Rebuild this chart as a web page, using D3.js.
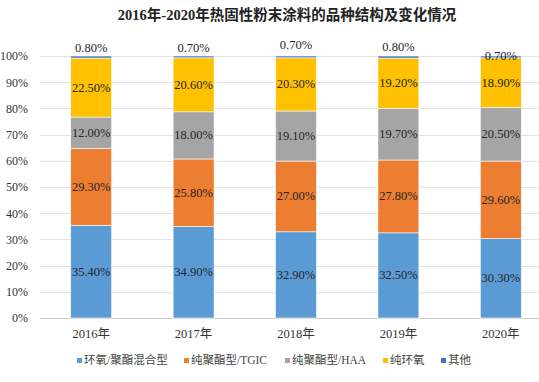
<!DOCTYPE html>
<html>
<head>
<meta charset="utf-8">
<script src="https://cdn.jsdelivr.net/npm/d3@7"></script>
<style>
  body { margin: 0; background: #fff; }
  text { font-family: "Liberation Serif", "Times New Roman", "Noto Sans CJK SC", serif; }
</style>
</head>
<body>
<div id="chart"></div>
<script>
(function () {

    // data
    var years = ["2016年", "2017年", "2018年", "2019年", "2020年"];
    var seriesNames = ["环氧/聚酯混合型", "纯聚酯型/TGIC", "纯聚酯型/HAA", "纯环氧", "其他"];
    var epoxyPolyester = [35.4, 34.9, 32.9, 32.5, 30.3];
    var tgic = [29.3, 25.8, 27.0, 27.8, 29.6];
    var haa = [12.0, 18.0, 19.1, 19.7, 20.5];
    var pureEpoxy = [22.5, 20.6, 20.3, 19.2, 18.9];
    var others = [0.8, 0.7, 0.7, 0.8, 0.7];
    var yTicks = [0, 10, 20, 30, 40, 50, 60, 70, 80, 90, 100];

    var colors = ["#5B9BD5", "#ED7D31", "#A5A5A5", "#FFC000", "#4472C4"];
    // small nudge of the top labels, as the original has them
    var topLabelShift = [-4, -4, -7, -5, 4];

    var W = 539, H = 382;
    var svg = d3.select("#chart").append("svg")
        .attr("width", W).attr("height", H);

    var rows = years.map(function (y, i) {
        return {year: y, s0: epoxyPolyester[i], s1: tgic[i], s2: haa[i], s3: pureEpoxy[i], s4: others[i]};
    });
    var keys = ["s0", "s1", "s2", "s3", "s4"];
    var stacked = d3.stack().keys(keys)(rows);

    var x = d3.scaleBand().domain(years).range([40, 552]).paddingInner(0.6).paddingOuter(0.3);
    var y = d3.scaleLinear().domain([0, 100]).range([318, 56]);

    // title
    svg.append("text")
        .attr("x", 287).attr("y", 20)
        .attr("text-anchor", "middle")
        .style("font-size", "14.5px").style("font-weight", "bold")
        .attr("fill", "#222")
        .text("2016年-2020年热固性粉末涂料的品种结构及变化情况");

    // grid
    svg.append("g").selectAll("line")
        .data(yTicks).enter().append("line")
        .attr("x1", 40).attr("x2", W)
        .attr("y1", function (d) { return Math.round(y(d)) + 0.5; })
        .attr("y2", function (d) { return Math.round(y(d)) + 0.5; })
        .attr("stroke", function (d) { return d === 0 ? "#D0D0D0" : "#E3E3E3"; })
        .attr("stroke-width", 1);

    // y axis labels
    var yAxis = d3.axisLeft(y).tickValues(yTicks).tickSize(0).tickPadding(0)
        .tickFormat(function (d) { return d + "%"; });
    var ya = svg.append("g").attr("transform", "translate(28,0)").call(yAxis);
    ya.select(".domain").remove();
    ya.selectAll("text")
        .style("font-family", "'Liberation Serif', serif")
        .style("font-size", "12px").attr("fill", "#333");

    // x axis labels
    var xAxis = d3.axisBottom(x).tickSize(0).tickPadding(0);
    var xa = svg.append("g").attr("transform", "translate(0,329)").call(xAxis);
    xa.select(".domain").remove();
    xa.selectAll("text")
        .style("font-family", "'Liberation Serif', 'Noto Sans CJK SC', serif")
        .style("font-size", "12.5px").attr("fill", "#333");

    // bars
    var layers = svg.append("g").selectAll("g.layer")
        .data(stacked).enter().append("g")
        .attr("class", "layer")
        .attr("fill", function (d, i) { return colors[i]; });

    layers.selectAll("rect")
        .data(function (d) { return d; }).enter().append("rect")
        .attr("x", function (d) { return x(d.data.year); })
        .attr("width", x.bandwidth())
        .attr("y", function (d) { return y(d[1]); })
        .attr("height", function (d) { return y(d[0]) - y(d[1]); })
        .attr("stroke", "#fff").attr("stroke-width", 0.6);

    // value labels inside bars (first four series), "其他" on top
    stacked.forEach(function (layer, li) {
        layer.forEach(function (d, i) {
            var val = d[1] - d[0];
            var lx = x(d.data.year) + x.bandwidth() / 2;
            var ly;
            if (li < 4) {
                ly = (y(d[0]) + y(d[1])) / 2 + 4;
            } else {
                ly = y(d[1]) + topLabelShift[i];
            }
            svg.append("text")
                .attr("x", lx).attr("y", ly)
                .attr("text-anchor", "middle")
                .style("font-size", "12.5px")
                .attr("fill", "#262626")
                .text(val.toFixed(2) + "%");
        });
    });

    // legend
    var legendX = [77, 184, 285, 383, 441];
    var lg = svg.append("g").selectAll("g")
        .data(seriesNames).enter().append("g")
        .attr("transform", function (d, i) { return "translate(" + legendX[i] + ",362)"; });
    lg.append("rect")
        .attr("x", 0).attr("y", -4).attr("width", 5).attr("height", 5)
        .attr("fill", function (d, i) { return colors[i]; });
    lg.append("text")
        .attr("x", 7).attr("y", 2)
        .style("font-size", "11.5px")
        .style("font-family", "'Liberation Serif', 'Noto Sans CJK SC', serif")
        .attr("fill", "#444")
        .text(function (d) { return d; });

})();
</script>
</body>
</html>
